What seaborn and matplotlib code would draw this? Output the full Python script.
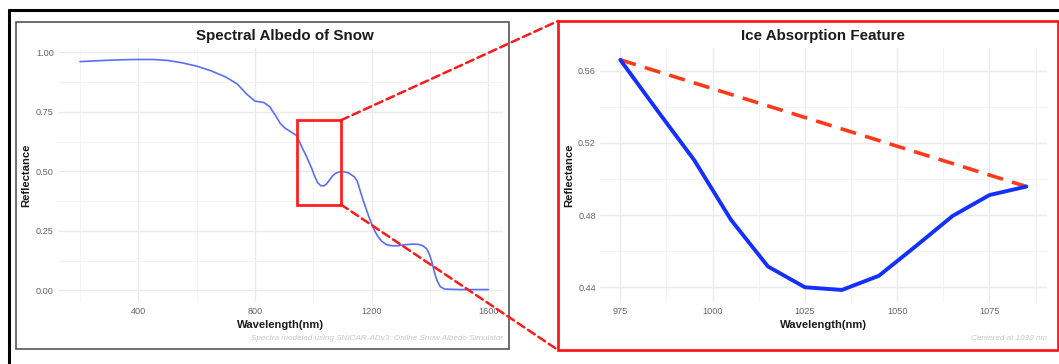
import numpy as np
import pandas as pd
import matplotlib
matplotlib.use("Agg")
import matplotlib.pyplot as plt
from matplotlib.lines import Line2D
from matplotlib.patches import Rectangle, ConnectionPatch
import seaborn as sns

# ---- spectral albedo of snow (full spectrum) ----
wavelength_full = [200, 250, 300, 350, 400, 450, 500, 550, 600, 650, 700, 740, 770,
                   800, 830, 850, 870, 886, 903, 920, 943, 960, 975, 985, 995, 1005,
                   1015, 1025, 1035, 1045, 1055, 1065, 1075, 1085, 1100, 1120, 1140,
                   1150, 1160, 1170, 1180, 1190, 1200, 1210, 1220, 1235, 1250, 1270,
                   1290, 1310, 1340, 1360, 1375, 1388, 1398, 1406, 1415, 1423, 1435,
                   1450, 1500, 1550, 1600]
reflect_full = [0.961, 0.964, 0.967, 0.969, 0.970, 0.970, 0.966, 0.956, 0.942, 0.922,
                0.896, 0.866, 0.826, 0.795, 0.789, 0.772, 0.735, 0.702, 0.681, 0.668,
                0.650, 0.603, 0.566, 0.538, 0.510, 0.477, 0.452, 0.440, 0.4385, 0.4465,
                0.463, 0.4795, 0.491, 0.496, 0.499, 0.494, 0.477, 0.460, 0.420, 0.380,
                0.345, 0.310, 0.278, 0.250, 0.228, 0.205, 0.192, 0.187, 0.187, 0.191,
                0.194, 0.193, 0.187, 0.175, 0.150, 0.120, 0.075, 0.043, 0.015, 0.005,
                0.003, 0.003, 0.003]

# ---- ice absorption feature (zoomed window) ----
wavelength_feat = [975, 985, 995, 1005, 1015, 1025, 1035, 1045, 1055, 1065, 1075, 1085]
reflect_feat = [0.566, 0.538, 0.5105, 0.4773, 0.4515, 0.4400, 0.4385, 0.4463,
                0.4627, 0.4795, 0.4911, 0.4958]

# zoom window drawn on the full spectrum
window_nm = [945, 1095]
window_refl = [0.36, 0.715]

left_xticks = [400, 800, 1200, 1600]
left_yticks = [0.00, 0.25, 0.50, 0.75, 1.00]
right_xticks = [975, 1000, 1025, 1050, 1075]
right_yticks = [0.44, 0.48, 0.52, 0.56]

full_df = pd.DataFrame({"wavelength": wavelength_full, "reflectance": reflect_full})
feat_df = pd.DataFrame({"wavelength": wavelength_feat, "reflectance": reflect_feat})
hull_df = feat_df.iloc[[0, -1]]

sns.set_theme(style="white")
plt.rcParams["font.family"] = ["Liberation Sans", "DejaVu Sans"]

W, H = 1059, 364
fig = plt.figure(figsize=(W / 100, H / 100), dpi=100)
fig.patch.set_facecolor("white")


def fx(x):
    return x / W


def fy(y):
    return 1 - y / H


def frame(ax, xlim, ylim, xmaj, xmin, ymaj, ymin, yfmt):
    ax.set_xlim(*xlim)
    ax.set_ylim(*ylim)
    for s in ax.spines.values():
        s.set_visible(False)
    ax.set_xticks(xmaj)
    ax.set_xticks(xmin, minor=True)
    ax.set_yticks(ymaj)
    ax.set_yticks(ymin, minor=True)
    ax.set_yticklabels([yfmt.format(v) for v in ymaj])
    ax.set_xticklabels([str(v) for v in xmaj])
    ax.grid(True, which="major", color="#EBEBEB", lw=1.0)
    ax.grid(True, which="minor", color="#F3F3F3", lw=0.6)
    ax.set_axisbelow(True)
    ax.tick_params(which="both", length=0)
    ax.tick_params(axis="y", labelsize=6.6, labelcolor="#666666", pad=3)
    ax.tick_params(axis="x", labelsize=6.6, labelcolor="#666666", pad=4)
    ax.set_xlabel("")
    ax.set_ylabel("")
    ax.set_facecolor("white")


# ---- left panel ----
ax1 = fig.add_axes([fx(58), fy(301.7), (503 - 58) / W, 253.4 / H])
sns.lineplot(data=full_df, x="wavelength", y="reflectance", ax=ax1,
             color="#5B6EF8", lw=1.2, estimator=None, sort=False)
frame(ax1, (124.6, 1650), (-0.048, 1.017), left_xticks,
      [200, 600, 1000, 1400], left_yticks, [0.125, 0.375, 0.625, 0.875], "{:.2f}")
ax1.add_patch(Rectangle((window_nm[0], window_refl[0]), window_nm[1] - window_nm[0],
                        window_refl[1] - window_refl[0], fill=False,
                        edgecolor="#FF2020", lw=2.0, zorder=5))

# ---- right panel ----
ax2 = fig.add_axes([fx(600), fy(301.7), (1046.7 - 600) / W, 253.4 / H])
sns.lineplot(data=hull_df, x="wavelength", y="reflectance", ax=ax2,
             color="#FF3A1A", lw=2.6, estimator=None, sort=False,
             dashes=False, linestyle=(0, (4.5, 2.6)))
sns.lineplot(data=feat_df, x="wavelength", y="reflectance", ax=ax2,
             color="#1430FF", lw=2.8, estimator=None, sort=False)
frame(ax2, (969.5, 1090.5), (0.432, 0.5724), right_xticks,
      [987.5, 1012.5, 1037.5, 1062.5, 1087.5], right_yticks, [0.46, 0.50, 0.54], "{:.2f}")

# ---- titles, axis labels, captions ----
bold = dict(fontweight="bold", color="#1a1a1a")
fig.text(fx(284.5), fy(40), "Spectral Albedo of Snow", ha="center", va="baseline",
         fontsize=10.9, **bold)
fig.text(fx(823.3), fy(40), "Ice Absorption Feature", ha="center", va="baseline",
         fontsize=10.9, **bold)
fig.text(fx(280.5), fy(325.5), "Wavelength(nm)", ha="center", va="center",
         fontsize=8.1, **bold)
fig.text(fx(823.3), fy(324.5), "Wavelength(nm)", ha="center", va="center",
         fontsize=8.1, **bold)
fig.text(fx(26.7), fy(175), "Reflectance", ha="center", va="center", rotation=90,
         fontsize=8.1, **bold)
fig.text(fx(569.3), fy(175), "Reflectance", ha="center", va="center", rotation=90,
         fontsize=8.1, **bold)
fig.text(fx(503.5), fy(339), "Spectra modeled using SNICAR-ADv3: Online Snow Albedo Simulator",
         ha="right", va="center", fontsize=5.9, style="italic", color="#C8C8C8")
fig.text(fx(1046.7), fy(339), "Centered at 1030 nm", ha="right", va="center",
         fontsize=5.9, style="italic", color="#C8C8C8")

# ---- frames around the panels ----
fig.add_artist(Line2D([fx(9), fx(9)], [fy(10), fy(364)], color="black", lw=2.2))
fig.add_artist(Line2D([fx(9), fx(1059)], [fy(10), fy(10)], color="black", lw=2.2))
fig.add_artist(Rectangle((fx(16), fy(349)), (509 - 16) / W, (349 - 22) / H,
                         transform=fig.transFigure, fill=False,
                         edgecolor="#555555", lw=1.2))
fig.add_artist(Rectangle((fx(558), fy(350)), (1058 - 558) / W, (350 - 21) / H,
                         transform=fig.transFigure, fill=False,
                         edgecolor="#FF1A1A", lw=2.0))

# ---- dashed connectors from the zoom window to the detail panel ----
for yv, ytarget in [(window_refl[1], 21), (window_refl[0], 350)]:
    con = ConnectionPatch(xyA=(window_nm[1], yv), coordsA=ax1.transData,
                          xyB=(fx(558), fy(ytarget)), coordsB=fig.transFigure,
                          color="#FF1A1A", lw=1.8, linestyle=(0, (3.2, 1.8)))
    fig.add_artist(con)

fig.savefig("out.png", dpi=100, facecolor="white")
